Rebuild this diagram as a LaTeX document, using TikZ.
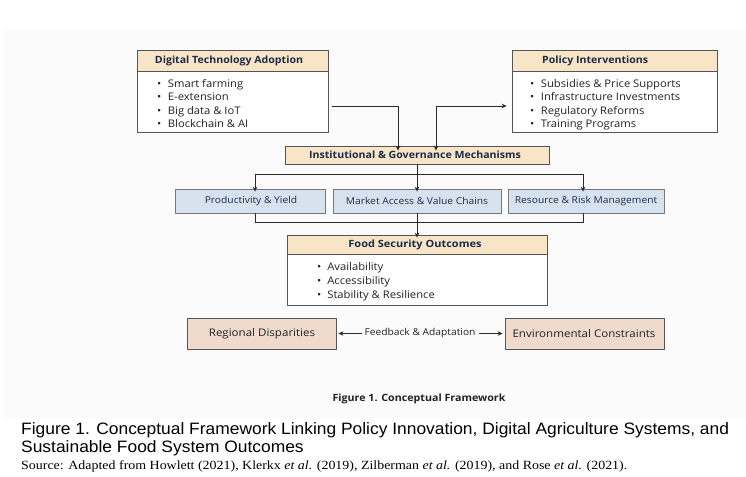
\documentclass[tikz,border=0pt]{standalone}
\usepackage{fontspec}
\usepackage{graphicx}
\setmainfont{Liberation Serif}
\newfontfamily\dfont{Open Sans}
\newfontfamily\capfont{Liberation Sans}
\usetikzlibrary{arrows.meta,calc}
\definecolor{hdr}{HTML}{F8E4C6}
\definecolor{bluef}{HTML}{D6E3EE}
\definecolor{pinkf}{HTML}{EFDACC}
\definecolor{bord}{HTML}{555555}
\definecolor{navy}{HTML}{1C2B4A}
\definecolor{itemc}{HTML}{222222}
\definecolor{linec}{HTML}{2A2A2A}
\definecolor{bgc}{HTML}{FBFBFB}
\newcommand{\sxa}[1]{\scalebox{1.06}[1]{#1}}
\newcommand{\sxb}[1]{\scalebox{1.07}[1]{#1}}
\newcommand{\sxc}[1]{\scalebox{1.08}[1]{#1}}
\begin{document}
\begin{tikzpicture}[x=1pt,y=-1pt,
  box/.style={draw=bord, line width=0.8pt, inner sep=0pt},
  hdrbox/.style={box, fill=hdr},
  bodybox/.style={box, fill=white},
  bluebox/.style={box, fill=bluef, draw=bord!80},
  pinkbox/.style={box, fill=pinkf},
  ttl/.style={font=\dfont\bfseries\fontsize{10}{12}\selectfont, text=navy, inner sep=0pt},
  lbl/.style={font=\dfont\fontsize{9.5}{11}\selectfont, text=navy, inner sep=0pt},
  blbl/.style={font=\dfont\fontsize{10.5}{12}\selectfont, text=itemc!80!navy, inner sep=0pt},
  itm/.style={font=\dfont\fontsize{10.5}{12}\selectfont, text=itemc, inner sep=0pt, anchor=base west},
  arr/.style={-{Stealth[length=5pt,width=4.5pt]}, draw=linec, line width=0.7pt},
  dblarr/.style={{Stealth[length=5pt,width=4.5pt]}-{Stealth[length=5pt,width=4.5pt]}, draw=linec, line width=0.7pt},
  ln/.style={draw=linec, line width=0.7pt}
]
\useasboundingbox (0,0) rectangle (746,476);
\fill[bgc] (5,30) rectangle (746,418);

% Digital Technology Adoption
\node[hdrbox, minimum width=191pt, minimum height=21pt] (dtah) at (232.5,60.5) {};
\node[bodybox, minimum width=191pt, minimum height=61pt] (dtab) at (232.5,101.5) {};
\node[ttl] (dtat) at (229,61) {\sxa{Digital Technology Adoption}};
\node[itm] (d1) at (157,87.5) {\sxb{\makebox[10pt][l]{•}Smart farming}};
\node[itm] (d2) at (157,101) {\sxb{\makebox[10pt][l]{•}E-extension}};
\node[itm] (d3) at (157,114.5) {\sxb{\makebox[10pt][l]{•}Big data \& IoT}};
\node[itm] (d4) at (157,128) {\sxb{\makebox[10pt][l]{•}Blockchain \& AI}};

% Policy Interventions
\node[hdrbox, minimum width=205pt, minimum height=21pt] (pih) at (614.5,60.5) {};
\node[bodybox, minimum width=205pt, minimum height=61pt] (pib) at (614.5,101.5) {};
\node[ttl, anchor=west] (pit) at (542,61) {\sxa{Policy Interventions}};
\node[itm] (p1) at (530,87.5) {\sxb{\makebox[10pt][l]{•}Subsidies \& Price Supports}};
\node[itm] (p2) at (530,101) {\sxb{\makebox[10pt][l]{•}Infrastructure Investments}};
\node[itm] (p3) at (530,114.5) {\sxb{\makebox[10pt][l]{•}Regulatory Reforms}};
\node[itm] (p4) at (530,128) {\sxb{\makebox[10pt][l]{•}Training Programs}};

% Institutional
\node[hdrbox, minimum width=264pt, minimum height=18pt] (inst) at (417,155) {};
\node[ttl] (instt) at (415,155) {\sxa{Institutional \& Governance Mechanisms}};

% Row boxes
\node[bluebox, minimum width=150pt, minimum height=24pt] (prod) at (250,201) {};
\node[lbl] (prodt) at (251,201) {\sxc{Productivity \& Yield}};
\node[bluebox, minimum width=168pt, minimum height=24pt] (mkt) at (417,201) {};
\node[lbl] (mktt) at (417,201) {\sxc{Market Access \& Value Chains}};
\node[bluebox, minimum width=156pt, minimum height=24pt] (res) at (586,201) {};
\node[lbl] (rest) at (586,201) {\sxc{Resource \& Risk Management}};

% Food Security
\node[hdrbox, minimum width=260pt, minimum height=19pt] (fsh) at (417,244.5) {};
\node[bodybox, minimum width=260pt, minimum height=51pt] (fsb) at (417,279.5) {};
\node[ttl] (fst) at (415,245) {\scalebox{1.1}[1]{Food Security Outcomes}};
\node[itm] (f1) at (317,270) {\sxb{\makebox[9.5pt][l]{•}Availability}};
\node[itm] (f2) at (317,284) {\sxb{\makebox[9.5pt][l]{•}Accessibility}};
\node[itm] (f3) at (317,298) {\sxb{\makebox[9.5pt][l]{•}Stability \& Resilience}};

% Bottom row
\node[pinkbox, minimum width=149pt, minimum height=31pt] (reg) at (261.5,333.5) {};
\node[blbl] (regt) at (262,333.5) {\scalebox{1.1}[1]{Regional Disparities}};
\node[pinkbox, minimum width=159pt, minimum height=31pt] (env) at (584.5,333.5) {};
\node[blbl] (envt) at (584,333.5) {\scalebox{1.1}[1]{Environmental Constraints}};

% Connectors top
\draw[arr] ([xshift=4pt,yshift=-4.5pt]dtab.east) -| ([xshift=-19pt,yshift=-5pt]inst.north);
\draw[dblarr] ([xshift=19pt,yshift=-5pt]inst.north) |- ([xshift=-5pt,yshift=-4.5pt]pib.west);

% Inst to row
\coordinate (sl) at (255,174);
\coordinate (sr) at (583,174);
\draw[ln] (sl) -- (sr);
\draw[ln] (inst.south) -- (inst.south |- sl);
\draw[arr] (sl) -- ([yshift=-3pt]prod.north -| sl);
\draw[arr] (inst.south |- sl) -- ([yshift=-3pt]mkt.north);
\draw[arr] (sr) -- ([yshift=-3pt]res.north -| sr);

% Row to food
\coordinate (ml) at (255,222);
\coordinate (mr) at (583,222);
\draw[ln] (prod.south -| ml) -- (ml) -- (mr) -- (res.south -| mr);
\draw[arr] (mkt.south) -- ([yshift=-3pt]fsh.north);

% Feedback
\draw[dblarr] ([xshift=2pt]reg.east) -- ([xshift=-2pt]env.west);
\node[lbl, fill=bgc, inner xsep=3pt, inner ysep=2pt, text=itemc] (fb) at (420,333.5) {\sxc{Feedback \& Adaptation}};

% Figure label
\node[font=\dfont\bfseries\fontsize{10}{12}\selectfont, text=itemc, inner sep=0pt] (figl) at (419,398.5) {\sxb{Figure 1. Conceptual Framework}};

% Caption
\node[font=\capfont\fontsize{16.5}{18}\selectfont, anchor=north west, inner sep=0pt, align=left] (cap) at (21,422)
  {\scalebox{1.055}[1]{Figure 1. Conceptual Framework Linking Policy Innovation, Digital Agriculture Systems, and}\\\scalebox{1.055}[1]{Sustainable Food System Outcomes}};
\node[font=\fontsize{12.5}{14}\selectfont, anchor=north west, inner sep=0pt] (src) at (21,460)
  {\scalebox{1.115}[1]{Source: Adapted from Howlett (2021), Klerkx \textit{et al.} (2019), Zilberman \textit{et al.} (2019), and Rose \textit{et al.} (2021).}};
\end{tikzpicture}
\end{document}
